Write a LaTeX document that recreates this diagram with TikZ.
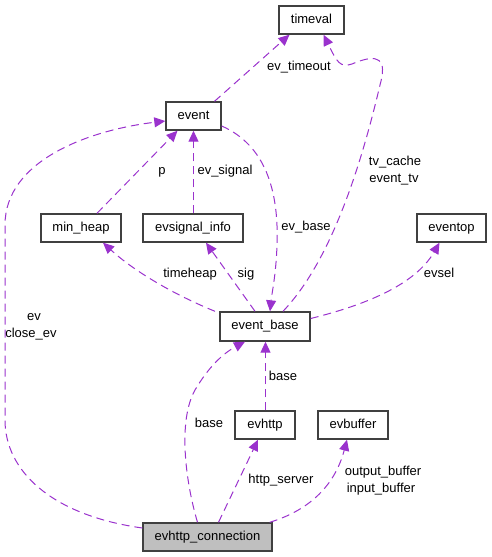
\documentclass[tikz,border=0pt]{standalone}
\usepackage{fontspec}
\setmainfont{Liberation Sans}
\usetikzlibrary{arrows.meta,calc}
\definecolor{edgecol}{HTML}{9A32CD}
\definecolor{boxline}{HTML}{404040}
\definecolor{focusfill}{HTML}{BFBFBF}
\begin{document}
\begin{tikzpicture}[x=1pt,y=-1pt,
  box/.style={draw=boxline, line width=1.4pt, fill=white, minimum height=28pt, inner sep=0pt,
    font=\fontsize{13}{15}\selectfont, text height=9.4pt, text depth=2.7pt},
  edge/.style={draw=edgecol, line width=1pt, dash pattern=on 8pt off 5pt,
    -{Triangle[length=11pt,width=10pt]}},
  lbl/.style={inner sep=0pt, font=\fontsize{13}{15}\selectfont, text height=9.4pt, text depth=2.7pt}
]
\useasboundingbox (0,0) rectangle (491,557);

% nodes
\node[box, minimum width=65pt] (timeval) at (311.5,20) {timeval};
\node[box, minimum width=55pt] (event) at (193.5,116) {event};
\node[box, minimum width=80pt] (minheap) at (81,228) {min\_heap};
\node[box, minimum width=100pt] (evsig) at (193,228) {evsignal\_info};
\node[box, minimum width=69pt] (eventop) at (451.5,228) {eventop};
\node[box, minimum width=90pt, minimum height=29pt] (evbase) at (265,326.5) {event\_base};
\node[box, minimum width=60pt] (evhttp) at (265,425) {evhttp};
\node[box, minimum width=70pt] (evbuffer) at (353,425) {evbuffer};
\node[box, minimum width=129pt, fill=focusfill] (conn) at (207.5,537) {evhttp\_connection};

% edges
\draw[edge] ([xshift=21pt]event.north) -- ([xshift=-22pt]timeval.south);
\draw[edge] ([xshift=18pt]evbase.north) .. controls (330,262) and (360,170) .. (380,85)
  .. controls (387,60) and (380,52) .. (352,64) .. controls (340,68) and (337,62) .. ([xshift=12pt]timeval.south);
\draw[edge] ([xshift=16pt]minheap.north) -- ([xshift=-16pt]event.south);
\draw[edge] ([xshift=0.5pt]evsig.north) -- ([xshift=0.5pt]evsig.north |- event.south);
\draw[edge] ([yshift=-10pt]event.east) .. controls (265,145) and (279,190) .. (277,245)
  .. controls (276,275) and (272,292) .. ([xshift=5pt]evbase.north);
\draw[edge] ([xshift=-50pt]evbase.north) .. controls (175,295) and (135,272) .. ([xshift=22pt]minheap.south);
\draw[edge] ([xshift=-10pt]evbase.north) -- ([xshift=13pt]evsig.south);
\draw[edge] ([yshift=8pt]evbase.east) .. controls (365,305) and (415,285) .. ([xshift=-12pt]eventop.south);
\draw[edge] ([yshift=9pt]conn.west) .. controls (50,515) and (5,470) .. (5,420) -- (5,225)
  .. controls (5,160) and (90,130) .. ([yshift=-5pt]event.west);
\draw[edge] ([xshift=-10pt]conn.north) .. controls (185,480) and (178,420) .. (195,390)
  .. controls (208,368) and (222,354) .. ([xshift=-20pt]evbase.south);
\draw[edge] ([xshift=0.5pt]evhttp.north) -- ([xshift=0.5pt]evbase.south);
\draw[edge] ([xshift=11pt]conn.north) -- ([xshift=-7pt]evhttp.south);
\draw[edge] ([xshift=-3pt]conn.north east) .. controls (310,510) and (335,485) .. ([xshift=-6pt]evbuffer.south);

% labels
\node[lbl] (l1) at (299,67) {ev\_timeout};
\node[lbl] (l2a) at (395,162) {tv\_cache};
\node[lbl] (l2b) at (394,179) {event\_tv};
\node[lbl] (l3) at (162,171) {p};
\node[lbl] (l4) at (225,171) {ev\_signal};
\node[lbl] (l5) at (306,227) {ev\_base};
\node[lbl] (l6) at (190,274) {timeheap};
\node[lbl] (l7) at (246,274) {sig};
\node[lbl] (l8) at (439,274) {evsel};
\node[lbl] (l9a) at (34,317) {ev};
\node[lbl] (l9b) at (31,334) {close\_ev};
\node[lbl] (l10) at (209,424) {base};
\node[lbl] (l11) at (283,377) {base};
\node[lbl] (l12) at (281,480) {http\_server};
\node[lbl] (l13a) at (383,472) {output\_buffer};
\node[lbl] (l13b) at (381,489) {input\_buffer};
\end{tikzpicture}
\end{document}
